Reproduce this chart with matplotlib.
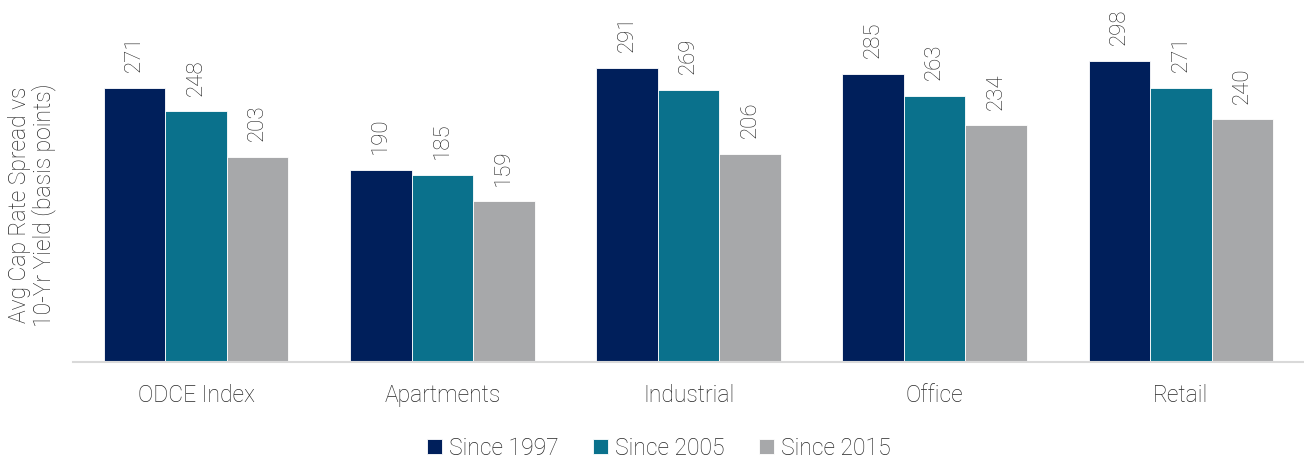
import matplotlib
matplotlib.use("Agg")
import matplotlib.pyplot as plt
import numpy as np

plt.rcParams['font.family'] = ['Roboto', 'DejaVu Sans']

categories = ["ODCE Index", "Apartments", "Industrial", "Office", "Retail"]
series_names = ["Since 1997", "Since 2005", "Since 2015"]
since_1997 = [271, 190, 291, 285, 298]
since_2005 = [248, 185, 269, 263, 271]
since_2015 = [203, 159, 206, 234, 240]
colors = ["#001F5B", "#0A718C", "#A7A8AA"]

fig = plt.figure(figsize=(13.04, 4.6), dpi=100)
ax = fig.add_axes([73/1304, 1-363/460, 1231/1304, 363/460])

x = np.arange(len(categories))
w = 0.25
text_color = "#262626"
fw = "light"
for i, (vals, name, c) in enumerate(zip([since_1997, since_2005, since_2015], series_names, colors)):
    pos = x + (i - 1) * w
    ax.bar(pos, vals, width=w, color=c, label=name, edgecolor="white", linewidth=0.6)
    for p, v in zip(pos, vals):
        ax.annotate(str(v), (p, v), xytext=(0, 12), textcoords="offset points",
                    rotation=90, ha="center", va="bottom", fontsize=16,
                    color=text_color, fontweight=fw)

ax.set_xlim(-0.5, len(categories) - 0.5)
ax.set_ylim(0, 359)
ax.set_xticks(x)
ax.set_xticklabels(categories, fontsize=16.5, color=text_color, fontweight=fw)
ax.tick_params(axis="x", length=0, pad=15)
ax.set_yticks([])
for s in ["top", "right", "left"]:
    ax.spines[s].set_visible(False)
ax.spines["bottom"].set_color("#D9D9D9")
ax.spines["bottom"].set_linewidth(1.5)

fig.text(32/1304, 1-205/460, "Avg Cap Rate Spread vs\n10-Yr Yield (basis points)",
         rotation=90, ha="center", va="center", fontsize=16.5, color=text_color,
         linespacing=1.0, fontweight=fw)

leg = fig.legend(loc="center", bbox_to_anchor=(659/1304, 1-449/460), ncol=3, frameon=False,
                 prop={"size": 16.5, "weight": fw}, handlelength=0.65, handleheight=0.65,
                 handletextpad=0.3, columnspacing=1.5)
for t in leg.get_texts():
    t.set_color(text_color)

fig.savefig("out.png", dpi=100)
